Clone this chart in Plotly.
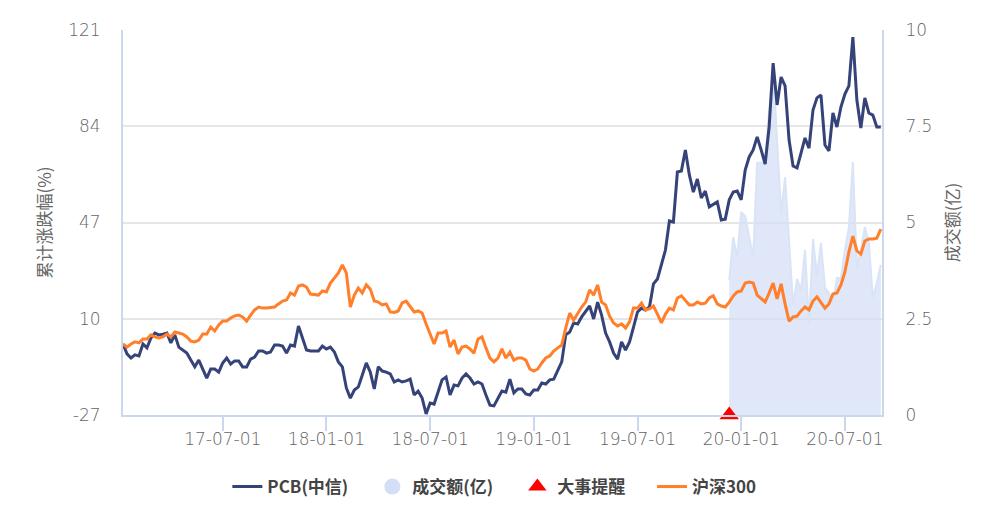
import plotly.graph_objects as go

pcb = [0.3,-3.5,-5.1,-3.9,-4.3,0.3,-1.2,2.6,4.5,3.8,4.1,4.5,0.7,3.8,-0.9,-2,-3.2,-5.9,-8.5,-5.9,
       -9.7,-12.8,-9.3,-9.3,-10.5,-7,-5.1,-7.4,-6.2,-6.2,-8.5,-8.5,-5.5,-4.7,-2.4,-2.4,-3.2,-2.8,-0.1,-0.1,
       -0.5,-3.2,-0.1,-0.5,7.2,2.6,-2,-2.4,-2.4,-2.4,-0.5,-1.6,-0.9,-2.8,-6.6,-8.5,-16.6,-20.5,-17.4,-16.2,
       -11.6,-7,-10.5,-17,-8.5,-10.1,-10.5,-11.2,-14.3,-13.5,-14.3,-13.9,-13.2,-19.3,-17.8,-20.5,-26.6,-22.4,-22.8,-18.5,
       -13.5,-12.4,-19.3,-15.5,-15.8,-12.8,-11.2,-12.8,-15.1,-14.3,-15.1,-19.3,-23.2,-23.5,-20.8,-17.8,-18.2,-13.2,-18.5,-17,
       -17,-18.9,-19.3,-17.4,-17.4,-14.7,-15.1,-13.5,-13.2,-9.7,-6.6,3.8,4.9,8.4,8,10.7,12.6,14.9,9.9,16.4,
       11.4,4.5,1.1,-3.2,-5.5,1.1,-2,1.1,6.8,12.6,14.1,13.4,14.5,23.4,25.3,30.7,36.4,47.6,47.2,66.4,
       66.8,74.9,65.3,58.7,63.7,56.4,59.1,53,54.1,54.9,48,48.3,55.7,58.7,59.1,55.7,67.2,72.2,74.9,79.9,
       74.9,69.5,83.7,108.3,92.2,102.9,99.5,78.7,68.7,68,73.7,79.5,75.6,90.2,94.9,96,76.8,74.5,89.1,83.7,
       91.4,96.4,99.5,118.3,94.1,83.3,94.9,89.1,88.3,83.7,83.7]

hs300 = [0.3,-0.9,0.3,1.1,0.7,2.2,2.2,3.8,3,2.6,3,4.1,3,4.9,4.5,4.1,3,1.4,1.1,1.8,
         4.1,4.1,6.8,5.3,7.6,9.1,9.1,10.3,11.1,11.4,10.7,9.1,11.4,13.4,14.5,14.1,14.1,14.3,14.5,15.7,
         16.8,17.2,19.9,19.1,22.6,23,22.2,19.5,19.3,19.1,20.7,20.3,23.7,25.7,27.6,30.7,27.6,14.5,19.1,21.8,
         19.9,23,21.4,16.8,16.4,15.3,15.7,12.6,12.4,13,16.1,16.8,14.5,12.6,13,12.2,8,4.5,0.3,4.5,
         4.5,5.3,-0.9,1.8,-3.5,-0.9,-0.5,-1.6,-3.2,2.2,3,-1.2,-5.1,-6.6,-5.1,-1.6,-5.1,-2.8,-5.9,-5.1,
         -5.1,-5.9,-9.3,-10.1,-9.3,-7,-5.1,-4.3,-2.4,-1.2,-0.1,6.4,12.2,9.5,12.2,14.5,16.4,21.1,19.1,23,
         16.4,15.3,11,8.4,7.2,8,6.4,8.8,14.1,14.1,16,13.4,13.8,14.9,11.8,8.4,11.8,14.1,13.4,18,
         18.8,17.2,15.3,15.3,16.4,15.7,16,18,18.8,15.7,14.9,14.5,16.4,18.8,20.3,20.7,23.7,24.1,23.7,19.1,
         17.6,16.4,19.9,23.7,17.6,23.4,15.7,9.1,10.7,11,13,14.5,13.4,16.8,18.4,16.4,14.1,15.7,19.5,19.9,
         23,28,35.7,41.8,36.1,34.9,39.9,40.7,40.7,41,44.5]

turnover = [3.51,4.62,4.10,5.27,5.17,4.68,4.10,6.55,6.55,6.55,7.92,9.01,7.14,5.27,6.18,4.42,2.86,3.53,3.25,4.29,
            2.39,4.57,3.64,4.47,3.30,3.17,2.91,3.56,3.56,4.29,4.88,6.57,3.84,4.29,4.88,4.49,3.04,3.43,3.90]

event_index = [152]
event_value = [-27]
date_ticks = [25, 51, 77, 103, 129, 155, 181]
date_labels = ["17-07-01", "18-01-01", "18-07-01", "19-01-01", "19-07-01", "20-01-01", "20-07-01"]
left_ticks = [-27, 10, 47, 84, 121]
left_labels = ["-27", "10", "47", "84", "121"]
right_ticks = [0, 2.5, 5, 7.5, 10]
right_labels = ["0", "2.5", "5", "7.5", "10"]

FONT = "Noto Sans CJK SC"
TICKFONT = dict(family="DejaVu Sans", size=17, color="#636363", weight=300)
AXIS = "#c9d8ec"
GRID = "#e6e6e6"
TEXT = "#666666"
LEGENDFONT = dict(size=17, color="#444444", weight="bold")

turn_start = 152
fig = go.Figure()
fig.add_trace(go.Scatter(x=list(range(len(pcb))), y=pcb, mode="lines", name="PCB(中信)", yaxis="y2",
                         line=dict(color="#354379", width=3)))
fig.add_trace(go.Scatter(x=list(range(turn_start, turn_start + len(turnover))), y=turnover, mode="lines",
                         yaxis="y", showlegend=False, fill="tozeroy", fillcolor="rgba(208,220,245,0.68)",
                         line=dict(color="#dae4f7", width=2)))
fig.add_trace(go.Scatter(x=[None], y=[None], mode="markers", name="成交额(亿)", yaxis="y",
                         marker=dict(color="#d3dff6", size=16)))
fig.add_trace(go.Scatter(x=event_index, y=event_value, mode="markers", name="大事提醒", yaxis="y2", cliponaxis=False,
                         marker=dict(color="#ff0000", size=17, symbol="triangle-up")))
fig.add_trace(go.Scatter(x=list(range(len(hs300))), y=hs300, mode="lines", name="沪深300", yaxis="y2", legend="legend2",
                         line=dict(color="#ff7f2a", width=3)))

fig.update_layout(
    width=996, height=516, margin=dict(l=115, r=122, t=22, b=109),
    paper_bgcolor="white", plot_bgcolor="white",
    font=dict(family=FONT, size=15, color=TEXT),
    xaxis=dict(range=[0, 190.3], tickmode="array", tickvals=date_ticks, ticktext=date_labels, showgrid=False,
               zeroline=False, showline=True, linecolor=AXIS, linewidth=2, ticks="outside", ticklen=14,
               tickcolor=AXIS, tickwidth=2, tickfont=TICKFONT, ticklabelstandoff=-6),
    yaxis=dict(range=[0, 10], side="right", tickmode="array", tickvals=right_ticks, ticktext=right_labels,
               showgrid=True, gridcolor=GRID, gridwidth=2, zeroline=False, showline=True, linecolor=AXIS, linewidth=2,
               ticks="", tickfont=TICKFONT, ticklabelstandoff=18,
               title=dict(text="成交额(亿)", standoff=16, font=dict(size=17, color=TEXT))),
    yaxis2=dict(range=[-27, 121], side="left", overlaying="y", tickmode="array", tickvals=left_ticks, ticktext=left_labels,
                showgrid=False, zeroline=False, showline=True, linecolor=AXIS, linewidth=2, ticks="",
                tickfont=TICKFONT, ticklabelstandoff=17,
                title=dict(text="累计涨跌幅(%)", standoff=12, font=dict(size=17, color=TEXT))),
    legend=dict(orientation="h", x=0.1375, xanchor="left", y=-0.187, yanchor="middle", entrywidth=100,
                font=LEGENDFONT, traceorder="normal"),
    legend2=dict(orientation="h", x=0.697, xanchor="left", y=-0.187, yanchor="middle", font=LEGENDFONT),
    showlegend=True,
)
fig.write_html("out.html")
